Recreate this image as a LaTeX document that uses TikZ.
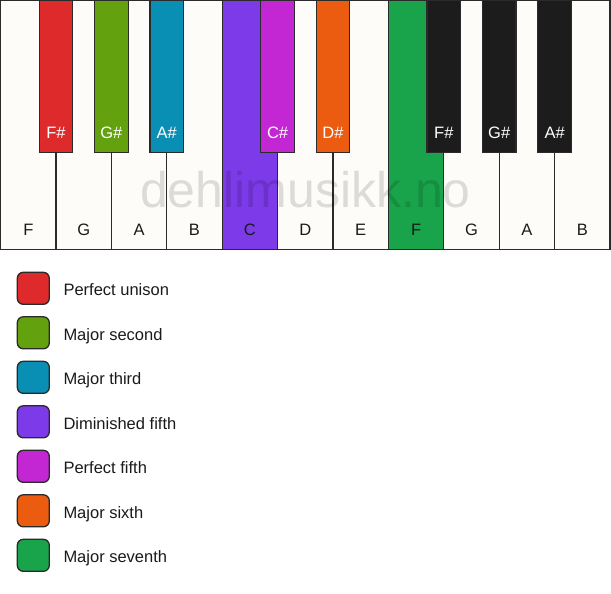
\documentclass[tikz,border=0pt]{standalone}
\usepackage{fontspec}
\setmainfont{Liberation Sans}
\usepackage{tikz}
\usetikzlibrary{positioning}

\definecolor{unison}{HTML}{DE2A2A}
\definecolor{second}{HTML}{64A10F}
\definecolor{third}{HTML}{0A8FB4}
\definecolor{dimfifth}{HTML}{7C3AE8}
\definecolor{fifth}{HTML}{C227D3}
\definecolor{sixth}{HTML}{EB5B10}
\definecolor{seventh}{HTML}{19A44B}
\definecolor{keyblack}{HTML}{1C1C1C}
\definecolor{ivory}{HTML}{FDFCF9}
\definecolor{keyline}{HTML}{2A2A2A}
\definecolor{textcol}{HTML}{1A1A1A}

\begin{document}
\begin{tikzpicture}[x=1pt, y=-1pt,
    keyfont/.style={font=\fontsize{16.5}{20}\selectfont},
    whitekey/.style={draw=keyline, line width=1.2pt, fill=ivory,
    minimum width=55.4pt, minimum height=249pt, inner sep=0pt, outer sep=0pt,
    label={[anchor=base, yshift=14pt, keyfont, text=textcol]south:#1},
    },
    blackkey/.style={draw=keyline, line width=1.2pt, fill=keyblack,
    minimum width=33.5pt, minimum height=152pt, inner sep=0pt, outer sep=0pt, anchor=north,
    label={[anchor=base, yshift=14pt, keyfont, text=white]south:#1},
    },
    watermark/.style={anchor=base, inner sep=0pt, font=\fontsize{50}{60}\selectfont,
    text=black, text opacity=0.13},
    swatch/.style={draw=keyline, line width=1.3pt, rounded corners=6pt,
    minimum size=32pt, inner sep=0pt, outer sep=0pt},
    legendtext/.style={keyfont, inner sep=0pt, text height=14.8pt, text depth=0pt, text=textcol},
    ]

    \useasboundingbox (0,0) rectangle (611,594);

    \node[whitekey=F, anchor=north west] (f1) at (0.6,0.6) {};
    \node[whitekey=G, right=0pt of f1] (g1) {};
    \node[whitekey=A, right=0pt of g1] (a1) {};
    \node[whitekey=B, right=0pt of a1] (b1) {};
    \node[whitekey=C, fill=dimfifth, right=0pt of b1] (c2) {};
    \node[whitekey=D, right=0pt of c2] (d2) {};
    \node[whitekey=E, right=0pt of d2] (e2) {};
    \node[whitekey=F, fill=seventh, right=0pt of e2] (f2) {};
    \node[whitekey=G, right=0pt of f2] (g2) {};
    \node[whitekey=A, right=0pt of g2] (a2) {};
    \node[whitekey=B, right=0pt of a2] (b2) {};

    \node[blackkey=F\#, fill=unison] (fs1) at (f1.north east) {};
    \node[blackkey=G\#, fill=second] (gs1) at (g1.north east) {};
    \node[blackkey=A\#, fill=third] (as1) at (a1.north east) {};
    \node[blackkey=C\#, fill=fifth] (cs2) at (c2.north east) {};
    \node[blackkey=D\#, fill=sixth] (ds2) at (d2.north east) {};
    \node[blackkey=F\#] (fs2) at (f2.north east) {};
    \node[blackkey=G\#] (gs2) at (g2.north east) {};
    \node[blackkey=A\#] (as2) at (a2.north east) {};

    \node[watermark] (mark) at (305.5,207.7) {dehlimusikk.no};

    \node[swatch, fill=unison] (lunison) at (33.3,288.3) {};
    \node[swatch, fill=second, below=12.5pt of lunison] (lsecond) {};
    \node[swatch, fill=third, below=12.5pt of lsecond] (lthird) {};
    \node[swatch, fill=dimfifth, below=12.5pt of lthird] (ldimfifth) {};
    \node[swatch, fill=fifth, below=12.5pt of ldimfifth] (lfifth) {};
    \node[swatch, fill=sixth, below=12.5pt of lfifth] (lsixth) {};
    \node[swatch, fill=seventh, below=12.5pt of lsixth] (lseventh) {};

    \node[legendtext, right=14pt of lunison] (tunison) {Perfect unison};
    \node[legendtext, right=14pt of lsecond] (tsecond) {Major second};
    \node[legendtext, right=14pt of lthird] (tthird) {Major third};
    \node[legendtext, right=14pt of ldimfifth] (tdimfifth) {Diminished fifth};
    \node[legendtext, right=14pt of lfifth] (tfifth) {Perfect fifth};
    \node[legendtext, right=14pt of lsixth] (tsixth) {Major sixth};
    \node[legendtext, right=14pt of lseventh] (tseventh) {Major seventh};
\end{tikzpicture}
\end{document}
